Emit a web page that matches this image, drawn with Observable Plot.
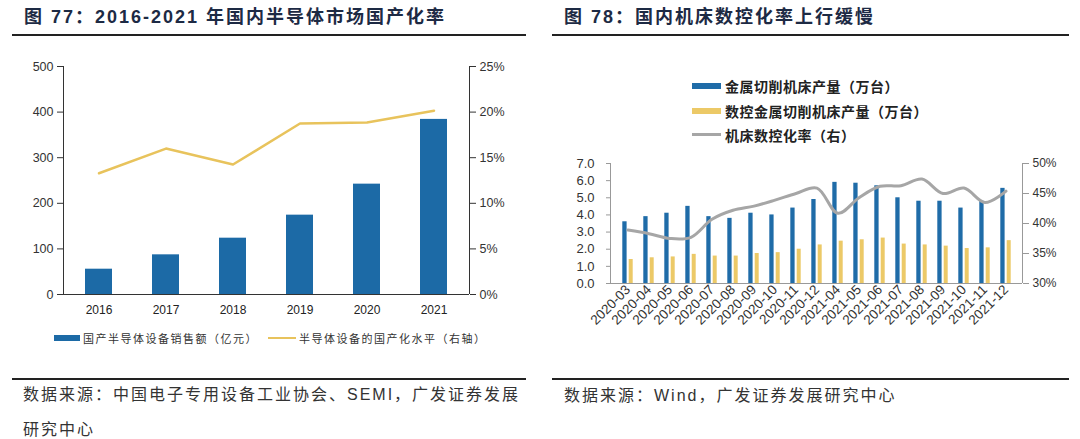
<!DOCTYPE html>
<html><head><meta charset="utf-8">
<script src="https://cdn.jsdelivr.net/npm/d3@7"></script>
<script src="https://cdn.jsdelivr.net/npm/@observablehq/plot@0.6"></script>
<style>
body{margin:0;background:#fff;width:1080px;height:439px;position:relative;overflow:hidden;font-family:"Liberation Sans","Noto Sans CJK SC",sans-serif;}
.abs{position:absolute;white-space:nowrap;}
.title{font-family:"Liberation Sans","Noto Sans CJK SC",sans-serif;font-weight:bold;font-size:18px;color:#1d2a44;letter-spacing:2px;line-height:18px;}
.rule{height:2px;background:#222;}
.src{font-family:"Liberation Sans","Noto Sans CJK SC",sans-serif;font-size:16px;color:#333;letter-spacing:2px;line-height:16px;}
.lg1{font-family:"Noto Sans CJK SC",sans-serif;font-size:11px;color:#333;letter-spacing:1.5px;line-height:12px;}
.lg2{font-family:"Noto Sans CJK SC",sans-serif;font-size:14px;font-weight:bold;color:#222;letter-spacing:0.5px;line-height:16px;}
</style></head><body>
<div class="abs title" style="left:24px;top:8px;">图 77：2016-2021 年国内半导体市场国产化率</div>
<div class="abs rule" style="left:12px;top:34px;width:514px;"></div>
<div class="abs title" style="left:564px;top:8px;">图 78：国内机床数控化率上行缓慢</div>
<div class="abs rule" style="left:552px;top:34px;width:517px;"></div>

<div id="c1" class="abs" style="left:0;top:40px;"></div>
<div id="c2" class="abs" style="left:540px;top:150px;"></div>

<!-- legend chart 1 -->
<div class="abs" style="left:54px;top:335px;width:26px;height:6px;background:#1c6aa6;"></div>
<div class="abs lg1" style="left:83px;top:332px;">国产半导体设备销售额（亿元）</div>
<div class="abs" style="left:268px;top:337px;width:28px;height:2px;background:#e8c35c;"></div>
<div class="abs lg1" style="left:299px;top:332px;">半导体设备的国产化水平（右轴）</div>

<!-- legend chart 2 -->
<div class="abs" style="left:692px;top:83px;width:29px;height:6px;background:#1f6ca8;"></div>
<div class="abs lg2" style="left:725px;top:78px;">金属切削机床产量（万台）</div>
<div class="abs" style="left:692px;top:108px;width:29px;height:6px;background:#ecc967;"></div>
<div class="abs lg2" style="left:725px;top:103px;">数控金属切削机床产量（万台）</div>
<div class="abs" style="left:692px;top:133px;width:29px;height:3px;background:#a6a6a6;"></div>
<div class="abs lg2" style="left:725px;top:127px;">机床数控化率（右）</div>

<div class="abs rule" style="left:12px;top:378px;width:514px;"></div>
<div class="abs rule" style="left:552px;top:378px;width:517px;"></div>
<div class="abs src" style="left:23px;top:387px;">数据来源：中国电子专用设备工业协会、SEMI，广发证券发展</div>
<div class="abs src" style="left:23px;top:422px;">研究中心</div>
<div class="abs src" style="left:564px;top:388px;">数据来源：Wind，广发证券发展研究中心</div>

<script>
// ---- Chart 1 data ----
const years = ["2016", "2017", "2018", "2019", "2020", "2021"];
const sales = [55.5, 87, 123.5, 174, 242, 384];          // 亿元
const localRate = [13.3, 16.0, 14.25, 18.75, 18.85, 20.15]; // %
const leftTicks1 = [0, 100, 200, 300, 400, 500];

// ---- Chart 2 data ----
const months = ["2020-03","2020-04","2020-05","2020-06","2020-07","2020-08","2020-09","2020-10","2020-11","2020-12",
                "2021-04","2021-05","2021-06","2021-07","2021-08","2021-09","2021-10","2021-11","2021-12"];
const metalCut = [3.6, 3.9, 4.1, 4.5, 3.9, 3.8, 4.1, 4.0, 4.4, 4.9, 5.9, 5.85, 5.7, 5.0, 4.8, 4.8, 4.4, 4.8, 5.55];
const cncCut   = [1.4, 1.5, 1.55, 1.7, 1.6, 1.6, 1.75, 1.8, 2.0, 2.25, 2.47, 2.55, 2.65, 2.3, 2.25, 2.18, 2.04, 2.08, 2.5];
const cncRate  = [38.9, 38.3, 37.5, 37.7, 40.7, 42.2, 42.9, 43.9, 45.0, 45.9, 41.7, 44.3, 46.2, 46.3, 47.4, 45.0, 45.9, 43.5, 45.4];
const leftTicks2 = [0, 1, 2, 3, 4, 5, 6, 7];
const rightTicks2 = [30, 35, 40, 45, 50];

// axis-line helper (draws frame edges at the plot margins)
function frameLines(color, sides) {
  return (index, scales, values, dim) => {
    const {width, height, marginLeft: l, marginRight: r, marginTop: t, marginBottom: b} = dim;
    const g = d3.create("svg:g").attr("stroke", color).attr("stroke-width", 1);
    if (sides.includes("left")) g.append("line").attr("x1", l + 0.5).attr("x2", l + 0.5).attr("y1", t).attr("y2", height - b);
    if (sides.includes("right")) g.append("line").attr("x1", width - r + 0.5).attr("x2", width - r + 0.5).attr("y1", t).attr("y2", height - b);
    if (sides.includes("bottom")) g.append("line").attr("x1", l).attr("x2", width - r).attr("y1", height - b + 0.5).attr("y2", height - b + 0.5);
    return g.node();
  };
}

// ---- Chart 1 ----
const d1 = years.map((y, i) => ({year: y, sales: sales[i], rate: localRate[i]}));
const k1 = 500 / 25; // right axis: 25% ↔ 500
const c1 = Plot.plot({
  width: 540, height: 290,
  marginLeft: 63, marginRight: 71, marginTop: 26, marginBottom: 36,
  style: {fontFamily: "Liberation Sans, Arial, sans-serif", fontSize: "12.5px", color: "#333", background: "transparent"},
  x: {type: "band", domain: years, paddingInner: 0.6, paddingOuter: 0.3, label: null},
  y: {domain: [0, 500], label: null},
  marks: [
    Plot.barY(d1, {x: "year", y: "sales", fill: "#1c6aa6"}),
    Plot.line(d1, {x: "year", y: d => d.rate * k1, stroke: "#e8c35c", strokeWidth: 2.5}),
    Plot.axisY({anchor: "left", ticks: leftTicks1, tickSize: 6, tickPadding: 4, label: null, stroke: "#333", fill: "#333"}),
    Plot.axisY({anchor: "right", ticks: leftTicks1, tickFormat: d => Math.round(d / k1) + "%", tickSize: 6, tickPadding: 4, label: null, stroke: "#333", fill: "#333"}),
    Plot.axisX({tickSize: 0, tickPadding: 11, label: null, fontSize: 12, fill: "#222"}),
    frameLines("#333", ["left", "right", "bottom"])
  ]
});
document.getElementById("c1").appendChild(c1);

// ---- Chart 2 ----
const d2 = months.map((m, i) => ({m, a: metalCut[i], b: cncCut[i], r: cncRate[i]}));
const toLeft = r => (r - 30) * 7 / 20; // right axis 30%–50% ↔ left 0–7
const c2 = Plot.plot({
  width: 540, height: 190,
  marginLeft: 70, marginRight: 58, marginTop: 13, marginBottom: 57,
  style: {fontFamily: "Liberation Sans, Arial, sans-serif", fontSize: "12px", color: "#333", background: "transparent"},
  x: {type: "band", domain: months, padding: 0, label: null},
  y: {domain: [0, 7], label: null},
  marks: [
    Plot.barY(d2, {x: "m", y: "a", fill: "#1f6ca8", insetLeft: 5.3, insetRight: 11.4}),
    Plot.barY(d2, {x: "m", y: "b", fill: "#ecc967", insetLeft: 11.7, insetRight: 5.3}),
    Plot.line(d2, {x: "m", y: d => toLeft(d.r), stroke: "#a6a6a6", strokeWidth: 3, curve: "catmull-rom"}),
    Plot.axisY({anchor: "left", ticks: leftTicks2, tickFormat: d3.format(".1f"), tickSize: 4, tickPadding: 12, label: null, fontSize: 13, stroke: "#999", fill: "#333"}),
    Plot.axisY({anchor: "right", ticks: rightTicks2.map(toLeft), tickFormat: d => Math.round(30 + d * 20 / 7) + "%", tickSize: 6, tickPadding: 4, label: null, stroke: "#999", fill: "#333"}),
    Plot.axisX({tickRotate: -45, tickSize: 0, tickPadding: 4, label: null, fontSize: 13.5, fill: "#333"}),
    frameLines("#999", ["left", "right", "bottom"])
  ]
});
document.getElementById("c2").appendChild(c2);
</script>
</body></html>
